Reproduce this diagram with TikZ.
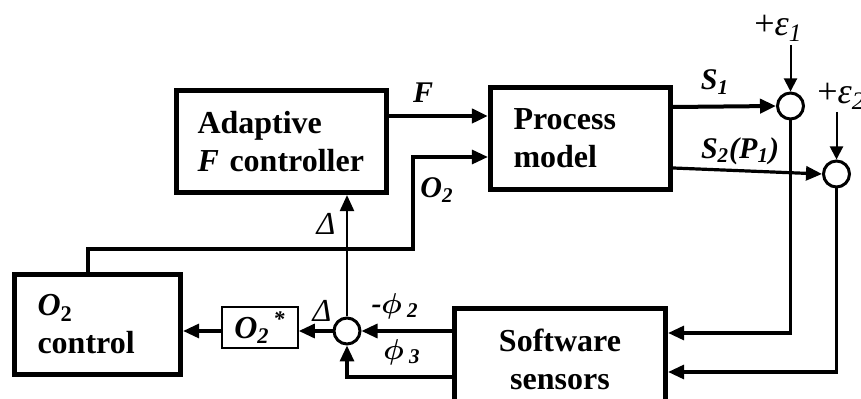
\documentclass[tikz,border=0pt]{standalone}
\usepackage{fontspec}
\setmainfont{Liberation Serif}
\usepackage{amsmath,amssymb}
\usepackage{bm}
\usepackage{tikz}
\usetikzlibrary{arrows.meta,positioning,calc}

\begin{document}
\begin{tikzpicture}[
  x=0.5pt, y=-0.5pt, >={Triangle[length=8pt,width=7pt]},
  block/.style={draw=black, line width=2.6pt, minimum height=51pt, inner xsep=11.5pt, align=left, font=\bfseries\fontsize{16}{19}\selectfont},
  summer/.style={draw=black, circle, line width=1.5pt, minimum size=13pt, inner sep=0pt},
  lab/.style={font=\bfseries\itshape\fontsize{15}{17}\selectfont, inner sep=0pt},
  noise/.style={font=\itshape\fontsize{16}{18}\selectfont, inner sep=0pt},
  arrow/.style={->, line width=1.6pt},
  thinarrow/.style={->, line width=1pt, >={Triangle[length=6.5pt,width=6.5pt]}}
]
\useasboundingbox (0,0) rectangle (861,399);

% blocks
\node[block, text width=84pt, inner xsep=10.5pt] (adapt) at (281.5,141.5) {Adaptive\\\textit{F} controller};
\node[block, text width=67pt] (process) at (580.5,138.5) {Process\\model};
\node[block, text width=60pt, minimum height=50pt] (o2ctrl) at (97.5,324.5) {\textit{O}\textsubscript{2}\\control};
\node[block, minimum width=105.5pt, align=center] (sensors) at (560,359.5) {Software\\sensors};
\node[draw=black, line width=0.8pt, minimum width=38pt, minimum height=20.5pt, inner sep=0pt,
      font=\bfseries\itshape\fontsize{16}{18}\selectfont] (o2star) at (260,327.5) {\textit{O}\textsubscript{2}\textsuperscript{\,*}};

% summing points
\node[summer] (c1) at (790.5,106) {};
\node[summer] (c2) at (836.5,174) {};
\node[summer] (c3) at (347,331) {};

\coordinate (e1) at (790.5,45);
\coordinate (e2) at (836.5,112);
\coordinate (o2turn) at (413,249);

% forward path
\draw[arrow, line width=2pt] ($(adapt.east)+(0,-25.5)$) -- ($(process.west)+(0,-22.5)$);
\draw[arrow] ($(o2ctrl.north)+(-9.5,0)$) |- (o2turn) |- ($(process.west)+(0,18.5)$);
\draw[arrow, line width=2pt] ($(process.east)+(0,-31.5)$) -- (c1.west);
\draw[arrow] ($(process.east)+(0,29.5)$) -- (c2.west);
\draw[thinarrow] (e1) -- (c1.north);
\draw[thinarrow] (e2) -- (c2.north);

% feedback
\draw[arrow] (c1.south) |- ($(sensors.east)+(0,-26.5)$);
\draw[arrow] (c2.south) |- ($(sensors.east)+(0,12.5)$);
\draw[arrow] ($(sensors.west)+(0,-28.5)$) -- (c3.east);
\draw[arrow] ($(sensors.west)+(0,17.5)$) -| (c3.south);
\draw[arrow, line width=1.2pt] (c3.north) -- (c3 |- adapt.south);
\draw[arrow] (c3.west) -- (c3.west -| o2star.east);
\draw[arrow] (c3.west -| o2star.west) -- (c3.west -| o2ctrl.east);

% labels
\node[lab] (flab) at (423,93) {F};
\node[lab] (o2lab) at (437,190) {O\textsubscript{2}};
\node[lab] (s1lab) at (715,82) {S\textsubscript{1}};
\node[lab] (s2lab) at (740,151) {S\textsubscript{2}(P\textsubscript{1})};
\node[noise, anchor=base west, font=\itshape\fontsize{18}{20}\selectfont] (e1lab) at (754,36) {\upshape+\itshape ε\textsubscript{1}};
\node[noise, anchor=base west, font=\itshape\fontsize{18}{20}\selectfont] (e2lab) at (817,104) {\upshape+\itshape ε\textsubscript{2}};
\node[noise] (d1lab) at (326,224) {Δ};
\node[noise] (d2lab) at (322,311) {Δ};
\node[lab] (p2lab) at (395,306) {-$\bm{\phi}$\,\textsubscript{2}};
\node[lab] (p3lab) at (402,352) {$\bm{\phi}$\,\textsubscript{3}};

\end{tikzpicture}
\end{document}
